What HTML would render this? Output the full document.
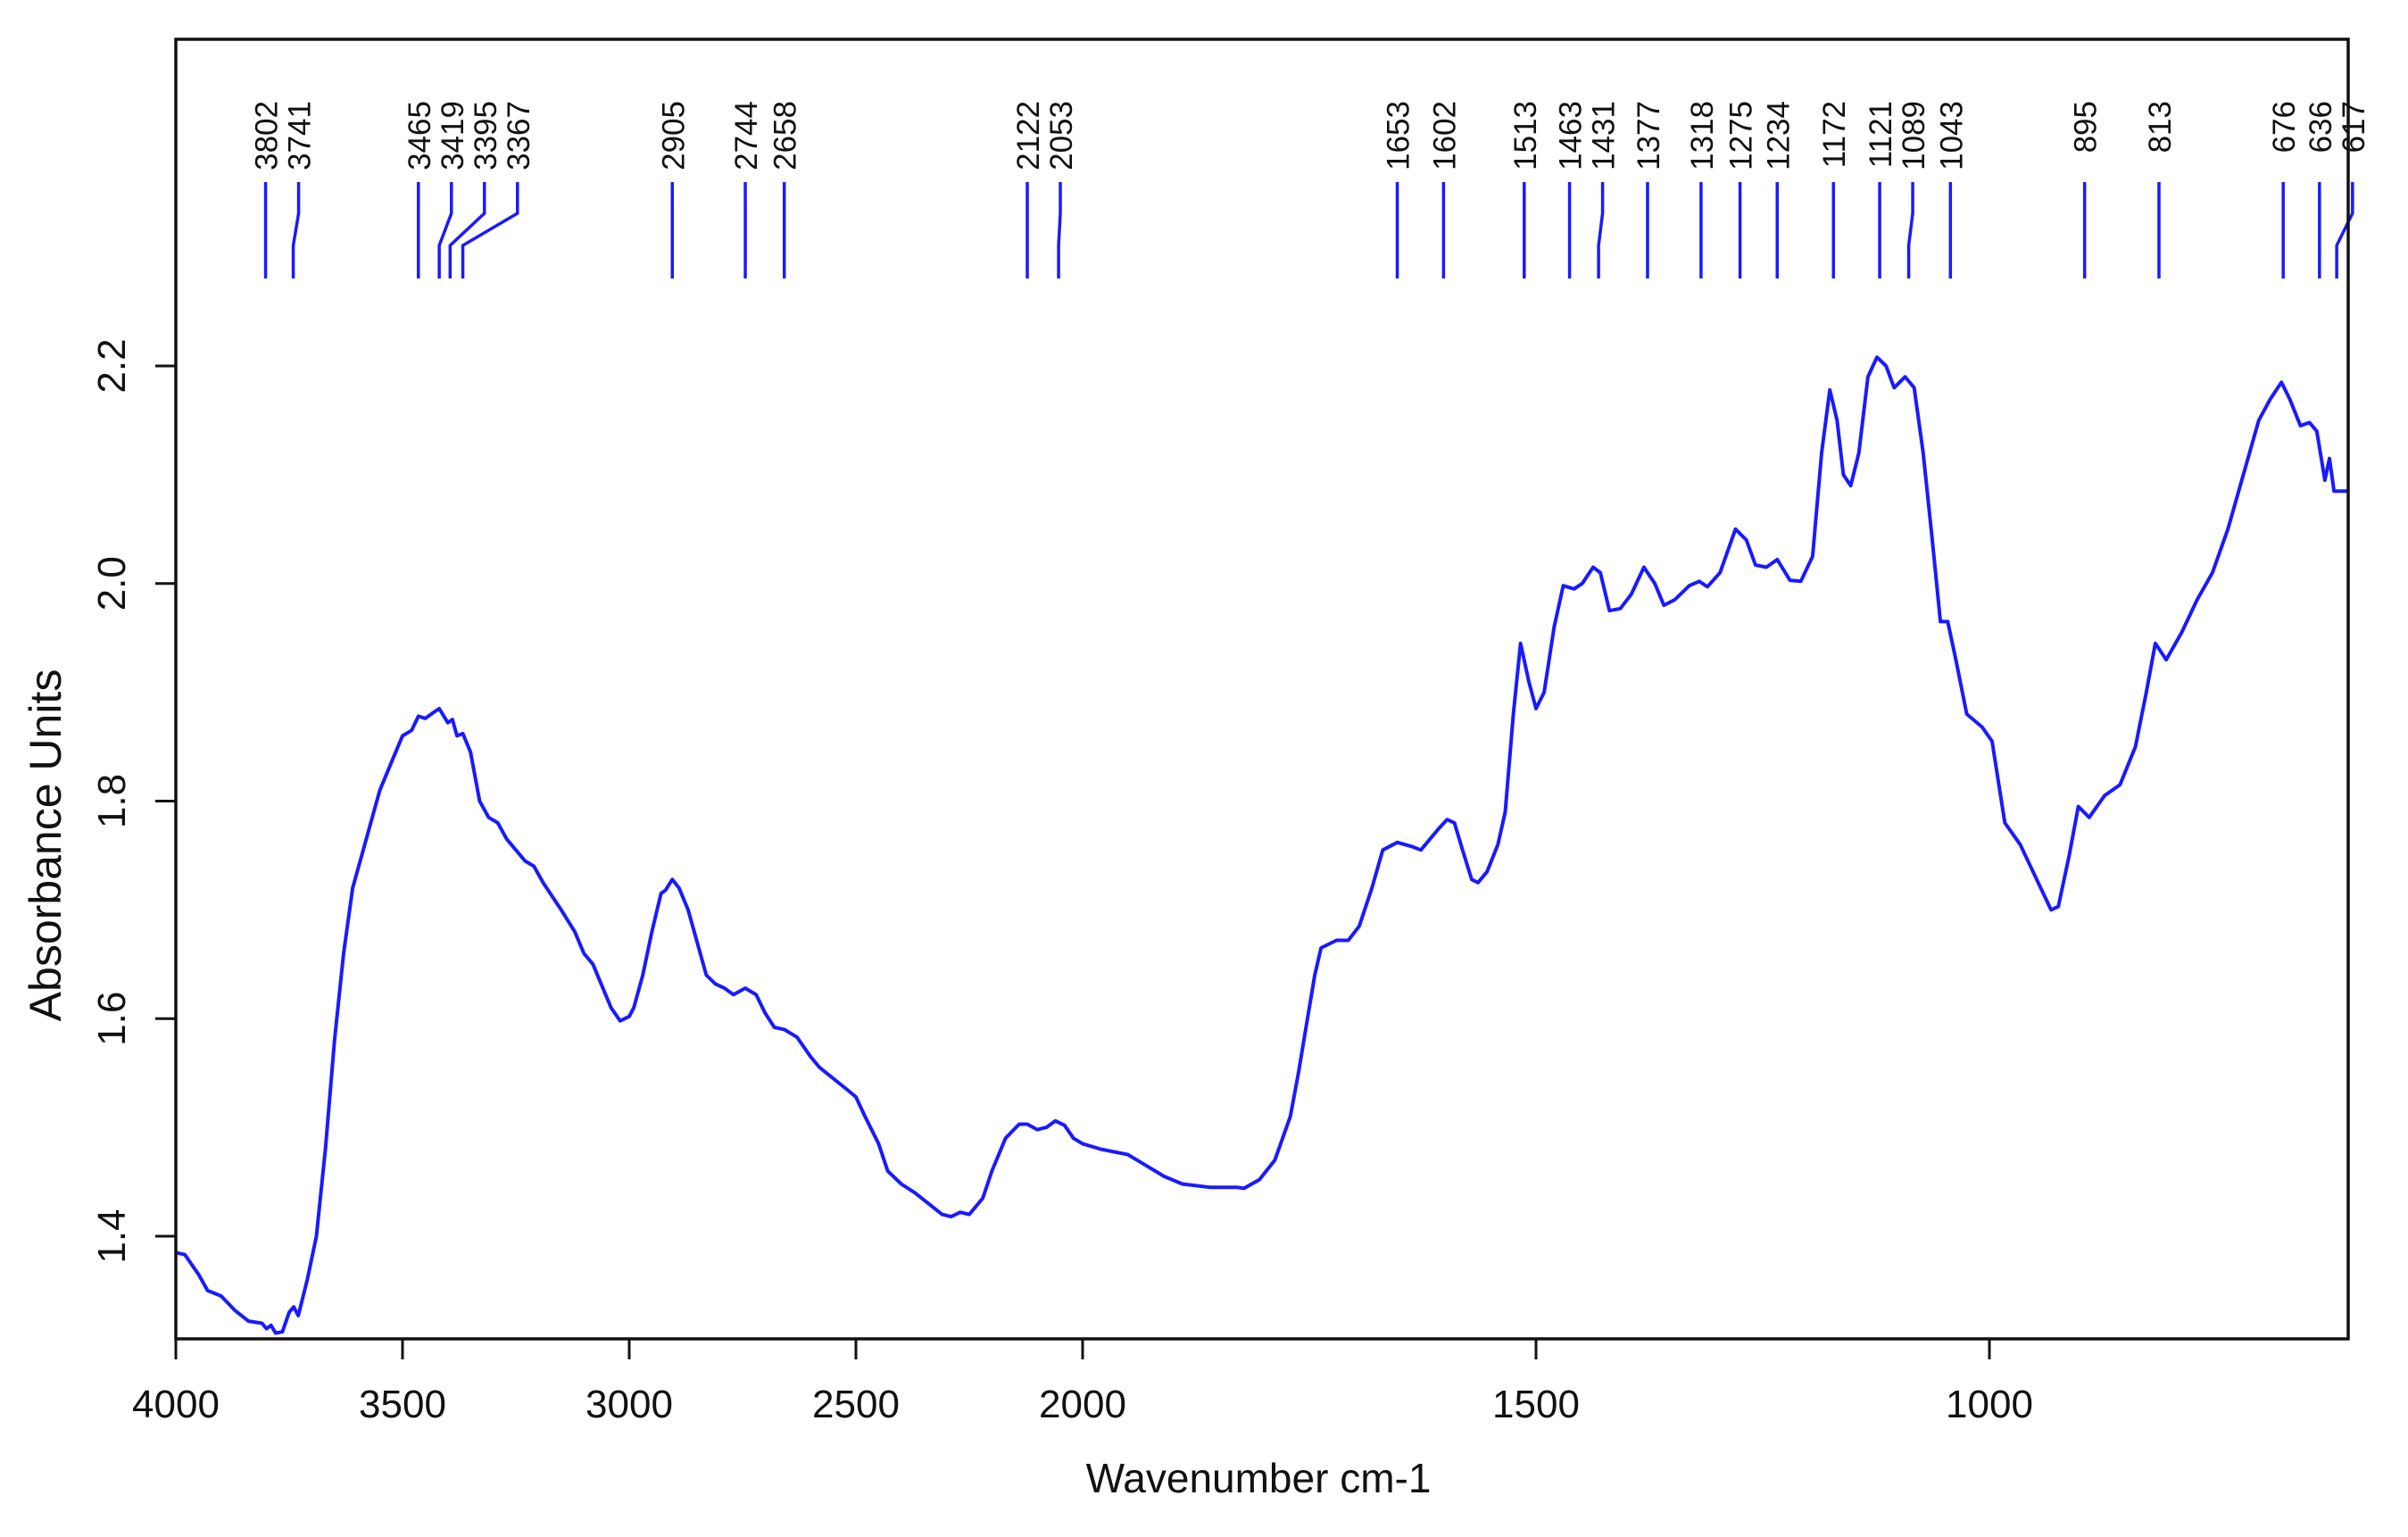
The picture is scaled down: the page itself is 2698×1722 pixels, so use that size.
<!DOCTYPE html>
<html><head><meta charset="utf-8"><style>
html,body{margin:0;padding:0;background:#fff;}
svg{display:block;font-family:"Liberation Sans",sans-serif;}
</style></head><body>
<svg id="chart" width="2698" height="1722" viewBox="0 0 2698 1722" xmlns="http://www.w3.org/2000/svg">
<rect x="0" y="0" width="2698" height="1722" fill="#fff"/>
<g id="curve-layer"></g>
<g id="peak-layer"></g>
<g id="axis-layer"></g>
<text x="1410" y="1672" font-size="46" text-anchor="middle" fill="#111">Wavenumber cm-1</text>
<text transform="translate(68,947) rotate(-90)" font-size="50" text-anchor="middle" fill="#111">Absorbance Units</text>
</svg>
<script>
const wavenumbers = [4000,3980,3950,3930,3900,3870,3840,3810,3800,3790,3780,3765,3750,3740,3730,3710,3690,3670,3650,3630,3610,3590,3570,3550,3520,3500,3480,3465,3450,3430,3419,3400,3390,3380,3367,3350,3330,3310,3290,3270,3250,3230,3210,3190,3150,3120,3100,3080,3060,3040,3020,3000,2990,2970,2950,2930,2920,2905,2890,2870,2850,2830,2810,2790,2770,2744,2720,2700,2680,2658,2630,2600,2580,2550,2520,2500,2480,2450,2430,2400,2370,2340,2310,2290,2270,2250,2220,2200,2170,2140,2122,2100,2080,2060,2040,2020,2000,1980,1950,1930,1910,1890,1860,1830,1822,1805,1788,1771,1762,1754,1744,1737,1720,1707,1695,1681,1669,1653,1636,1627,1607,1598,1590,1581,1571,1564,1554,1542,1534,1525,1517,1508,1500,1491,1480,1470,1458,1449,1437,1429,1419,1407,1395,1381,1369,1359,1347,1331,1320,1311,1297,1280,1268,1258,1246,1234,1220,1208,1195,1185,1176,1168,1161,1153,1144,1134,1124,1114,1105,1093,1083,1073,1063,1054,1046,1037,1025,1008,997,983,966,949,932,924,912,902,890,873,856,839,827,817,805,788,771,754,737,720,703,690,678,669,657,647,639,630,625,620,604];
const absorbance = [1.385,1.383,1.365,1.350,1.345,1.332,1.322,1.320,1.315,1.318,1.311,1.312,1.330,1.335,1.327,1.36,1.40,1.48,1.58,1.66,1.72,1.75,1.78,1.81,1.84,1.86,1.865,1.878,1.876,1.882,1.885,1.872,1.875,1.860,1.862,1.845,1.80,1.785,1.78,1.765,1.755,1.745,1.740,1.725,1.70,1.68,1.66,1.65,1.63,1.61,1.598,1.602,1.61,1.64,1.68,1.715,1.718,1.728,1.72,1.70,1.67,1.64,1.632,1.628,1.622,1.628,1.622,1.605,1.592,1.59,1.583,1.565,1.555,1.545,1.535,1.528,1.51,1.485,1.46,1.448,1.44,1.43,1.42,1.418,1.422,1.42,1.435,1.46,1.49,1.503,1.503,1.498,1.500,1.506,1.502,1.49,1.485,1.48,1.475,1.465,1.455,1.448,1.445,1.445,1.444,1.452,1.47,1.51,1.55,1.59,1.64,1.665,1.672,1.672,1.685,1.72,1.755,1.762,1.758,1.755,1.775,1.783,1.78,1.755,1.728,1.725,1.735,1.76,1.79,1.88,1.945,1.91,1.885,1.90,1.96,1.998,1.995,2.0,2.015,2.01,1.975,1.977,1.99,2.015,2.0,1.98,1.985,1.998,2.002,1.997,2.01,2.05,2.04,2.017,2.015,2.022,2.003,2.002,2.025,2.12,2.178,2.15,2.1,2.09,2.12,2.19,2.208,2.2,2.18,2.19,2.18,2.12,2.04,1.965,1.965,1.93,1.88,1.868,1.855,1.78,1.76,1.73,1.70,1.703,1.75,1.795,1.785,1.805,1.815,1.85,1.90,1.945,1.93,1.955,1.985,2.01,2.05,2.10,2.15,2.17,2.185,2.17,2.145,2.148,2.14,2.095,2.115,2.085,2.085];
const peakLabels = [3802,3741,3465,3419,3395,3367,2905,2744,2658,2122,2053,1653,1602,1513,1463,1431,1377,1318,1275,1234,1172,1121,1089,1043,895,813,676,636,617];
const xTickValues = [4000,3500,3000,2500,2000,1500,1000];
const yTickValues = [1.4,1.6,1.8,2.0,2.2];

const NS = "http://www.w3.org/2000/svg";
const L = 197, R = 2631, T = 44, B = 1500;
function xScale(w){ return w >= 2000 ? L + (4000 - w) * 0.508 : 1213 + (2000 - w) * 1.016; }
function yScale(v){ return 1385 - (v - 1.4) * 1218.75; }
function mk(tag, attrs){ const e = document.createElementNS(NS, tag); for (const k in attrs) e.setAttribute(k, attrs[k]); return e; }

const curveLayer = document.getElementById('curve-layer');
let d = '';
wavenumbers.forEach((w, i) => { d += (i ? 'L' : 'M') + xScale(w).toFixed(1) + ' ' + yScale(absorbance[i]).toFixed(1); });
const path = mk('path', {d: d, fill: 'none', stroke: '#1a1aff', 'stroke-width': 4, 'stroke-linejoin': 'round'});


curveLayer.appendChild(path);

const peakLayer = document.getElementById('peak-layer');
let prevLabelX = -1e9;
peakLabels.forEach(p => {
  const px = xScale(p);
  let lx = Math.max(px, prevLabelX + 37);
  prevLabelX = lx;
  const line = mk('polyline', {points: `${lx},204 ${lx},239 ${px},275 ${px},312`, fill: 'none', stroke: '#1a1aff', 'stroke-width': 3.5});
  
  
  peakLayer.appendChild(line);
  const t = mk('text', {transform: `translate(${lx + 13},113) rotate(-90)`, 'font-size': 35, 'text-anchor': 'end', fill: '#111'});
  t.textContent = String(p);
  
  
  peakLayer.appendChild(t);
});

const axisLayer = document.getElementById('axis-layer');
const frame = mk('rect', {x: L, y: T, width: R - L, height: B - T, fill: 'none', stroke: '#111', 'stroke-width': 3.5});


axisLayer.appendChild(frame);
xTickValues.forEach(v => {
  const x = xScale(v);
  const tk = mk('line', {x1: x, y1: B, x2: x, y2: B + 23, stroke: '#111', 'stroke-width': 3});
  
  
  axisLayer.appendChild(tk);
  const t = mk('text', {x: x, y: 1588, 'font-size': 44, 'text-anchor': 'middle', fill: '#111'});
  t.textContent = String(v);
  
  
  axisLayer.appendChild(t);
});
yTickValues.forEach(v => {
  const y = yScale(v);
  const tk = mk('line', {x1: L - 23, y1: y, x2: L, y2: y, stroke: '#111', 'stroke-width': 3});
  
  
  axisLayer.appendChild(tk);
  const t = mk('text', {transform: `translate(140,${y}) rotate(-90)`, 'font-size': 44, 'text-anchor': 'middle', fill: '#111'});
  t.textContent = v.toFixed(1);
  
  
  axisLayer.appendChild(t);
});
</script>
</body></html>
